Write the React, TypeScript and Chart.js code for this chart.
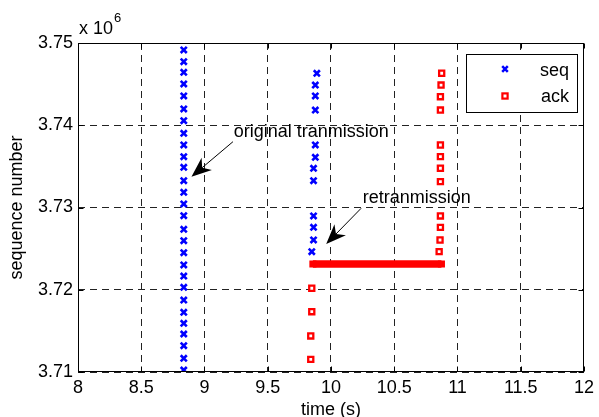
import React, { useEffect, useRef } from "react";
import { Chart, registerables } from "chart.js";

Chart.register(...registerables);

const FONT = '"Liberation Sans", Arial, Helvetica, sans-serif';
const FS = 18;

// ---- data (sequence numbers in bytes, axis shows x 10^6) ----
const origTime = 8.836;
const origSeq = [
  3749150, 3747730, 3746440, 3745020, 3743560, 3741980, 3740550, 3739020,
  3737600, 3736180, 3734890, 3733260, 3731850, 3730430, 3729000, 3727350,
  3725960, 3724500, 3723010, 3721670, 3720300, 3718750, 3717260, 3715920,
  3714620, 3713200, 3711670, 3710240,
];
const retxTimes = [9.888, 9.876, 9.876, 9.876, 9.876, 9.876, 9.862, 9.862, 9.862, 9.862, 9.862, 9.848];
const retxSeq = [3746320, 3744890, 3743560, 3741850, 3737600, 3736100, 3734770, 3733260, 3728970, 3727590, 3726050, 3724630];
const earlyAckTimes = [9.848, 9.848, 9.84, 9.84];
const earlyAckSeq = [3720180, 3717330, 3714380, 3711540];
const dupAckTimes = [9.857, 10.873];
const dupAckSeq = [3723130, 3723130];
const lateAckTimes = [10.875, 10.87, 10.865, 10.865, 10.865, 10.865, 10.865, 10.865, 10.865, 10.865, 10.862, 10.855];
const lateAckSeq = [3746320, 3744890, 3743470, 3741850, 3737600, 3736180, 3734770, 3733140, 3728970, 3727590, 3726050, 3724630];

const xTicks = [8, 8.5, 9, 9.5, 10, 10.5, 11, 11.5, 12];
const yTicks = [3710000, 3720000, 3730000, 3740000, 3750000];
const seriesLabels = ["seq", "ack"];

// annotations
const annoTexts = ["original tranmission", "retranmission"];
const annoTextX = [9.231, 10.251];
const annoTextY = [3739220, 3731150];
const annoFromX = [9.225, 10.238];
const annoFromY = [3738000, 3729900];
const annoToX = [8.897, 9.962];
const annoToY = [3733740, 3725560];

const BLUE = "#0000ff";
const RED = "#ff0000";

function drawCross(ctx: CanvasRenderingContext2D, x: number, y: number, r: number) {
  ctx.save();
  ctx.strokeStyle = BLUE;
  ctx.lineWidth = 2.5;
  ctx.beginPath();
  ctx.moveTo(x - r, y - r);
  ctx.lineTo(x + r, y + r);
  ctx.moveTo(x + r, y - r);
  ctx.lineTo(x - r, y + r);
  ctx.stroke();
  ctx.restore();
}

function drawSquare(ctx: CanvasRenderingContext2D, x: number, y: number, s: number) {
  ctx.save();
  ctx.fillStyle = "#fff";
  ctx.strokeStyle = RED;
  ctx.lineWidth = 2.2;
  ctx.fillRect(x - s, y - s, 2 * s, 2 * s);
  ctx.strokeRect(x - s, y - s, 2 * s, 2 * s);
  ctx.restore();
}

function drawArrow(ctx: CanvasRenderingContext2D, x1: number, y1: number, x2: number, y2: number) {
  const ang = Math.atan2(y2 - y1, x2 - x1);
  const L = 20;
  const W = 8;
  const ux = Math.cos(ang), uy = Math.sin(ang);
  const px = -uy, py = ux;
  const bx = x2 - ux * L, by = y2 - uy * L;
  const nx = x2 - ux * L * 0.7, ny = y2 - uy * L * 0.7;
  ctx.save();
  ctx.strokeStyle = "#000";
  ctx.lineWidth = 1;
  ctx.beginPath();
  ctx.moveTo(x1, y1);
  ctx.lineTo(nx, ny);
  ctx.stroke();
  ctx.fillStyle = "#000";
  ctx.beginPath();
  ctx.moveTo(x2, y2);
  ctx.lineTo(bx + px * W, by + py * W);
  ctx.lineTo(nx, ny);
  ctx.lineTo(bx - px * W, by - py * W);
  ctx.closePath();
  ctx.fill();
  ctx.restore();
}

const overlayPlugin = {
  id: "overlay",
  afterDraw(chart: any) {
    const { ctx, chartArea: a, scales } = chart;
    const xs = scales.x;
    const ys = scales.y;
    ctx.save();
    ctx.setLineDash([]);
    ctx.strokeStyle = "#000";
    ctx.lineWidth = 1;
    const L = Math.round(a.left) + 0.5;
    const R = Math.round(a.right) - 0.5;
    const T = Math.round(a.top) + 0.5;
    const B = Math.round(a.bottom) - 0.5;
    ctx.strokeRect(L, T, R - L, B - T);
    ctx.beginPath();
    for (const v of xTicks) {
      const px = Math.round(xs.getPixelForValue(v)) + 0.5;
      ctx.moveTo(px, B);
      ctx.lineTo(px, B - 5);
      ctx.moveTo(px, T);
      ctx.lineTo(px, T + 5);
    }
    for (const v of yTicks) {
      const py = Math.round(ys.getPixelForValue(v)) + 0.5;
      ctx.moveTo(L, py);
      ctx.lineTo(L + 5, py);
      ctx.moveTo(R, py);
      ctx.lineTo(R - 5, py);
    }
    ctx.stroke();

    ctx.fillStyle = "#000";
    ctx.font = `${FS}px ${FONT}`;
    ctx.textAlign = "left";
    ctx.textBaseline = "middle";
    ctx.fillText("x 10", 79, 29);
    const w = ctx.measureText("x 10").width;
    ctx.font = `13px ${FONT}`;
    ctx.fillText("6", 79 + w + 1, 18);

    ctx.font = `${FS}px ${FONT}`;
    ctx.textAlign = "center";
    ctx.fillText("time (s)", (a.left + a.right) / 2, 410);
    ctx.save();
    ctx.translate(17, (a.top + a.bottom) / 2);
    ctx.rotate(-Math.PI / 2);
    ctx.fillText("sequence number", 0, 0);
    ctx.restore();

    for (let i = 0; i < annoTexts.length; i++) {
      ctx.font = `${FS}px ${FONT}`;
      ctx.textAlign = "left";
      ctx.textBaseline = "middle";
      ctx.fillStyle = "#000";
      ctx.fillText(annoTexts[i], xs.getPixelForValue(annoTextX[i]), ys.getPixelForValue(annoTextY[i]));
      drawArrow(
        ctx,
        xs.getPixelForValue(annoFromX[i]),
        ys.getPixelForValue(annoFromY[i]),
        xs.getPixelForValue(annoToX[i]),
        ys.getPixelForValue(annoToY[i])
      );
    }

    const lx = 466.5, ly = 54.5, lw = 111, lh = 58;
    ctx.fillStyle = "#fff";
    ctx.fillRect(lx, ly, lw, lh);
    ctx.strokeStyle = "#000";
    ctx.lineWidth = 1;
    ctx.strokeRect(lx, ly, lw, lh);
    drawCross(ctx, 505, 69, 2.8);
    drawSquare(ctx, 505, 96, 2.6);
    ctx.fillStyle = "#000";
    ctx.font = `${FS}px ${FONT}`;
    ctx.textAlign = "right";
    ctx.textBaseline = "middle";
    ctx.fillText(seriesLabels[0], 569, 71);
    ctx.fillText(seriesLabels[1], 569, 97);
    ctx.restore();
  },
};

export default function App() {
  const ref = useRef<HTMLCanvasElement>(null);
  useEffect(() => {
    if (!ref.current) return;
    const seqPoint = {
      pointStyle: "crossRot",
      pointRadius: 4.3,
      pointBorderWidth: 2.6,
      borderColor: BLUE,
      backgroundColor: BLUE,
      showLine: false,
    };
    const ackPoint = {
      pointStyle: "rect",
      pointRadius: 3.6,
      pointBorderWidth: 2.3,
      borderColor: RED,
      backgroundColor: "#ffffff",
      showLine: false,
    };
    const chart = new Chart(ref.current, {
      type: "scatter",
      data: {
        datasets: [
          {
            label: seriesLabels[0],
            data: origSeq.map((s) => ({ x: origTime, y: s })),
            ...seqPoint,
          } as any,
          {
            label: seriesLabels[0],
            data: retxSeq.map((s, i) => ({ x: retxTimes[i], y: s })),
            ...seqPoint,
          } as any,
          {
            label: seriesLabels[1],
            data: earlyAckSeq.map((s, i) => ({ x: earlyAckTimes[i], y: s })),
            ...ackPoint,
          } as any,
          {
            label: seriesLabels[1],
            data: dupAckSeq.map((s, i) => ({ x: dupAckTimes[i], y: s })),
            showLine: true,
            borderColor: RED,
            borderWidth: 7.5,
            borderCapStyle: "butt",
            pointStyle: "rect",
            pointRadius: 3.6,
            pointBorderWidth: 2,
            pointBackgroundColor: RED,
            pointBorderColor: RED,
          } as any,
          {
            label: seriesLabels[1],
            data: lateAckSeq.map((s, i) => ({ x: lateAckTimes[i], y: s })),
            ...ackPoint,
          } as any,
        ],
      },
      options: {
        responsive: false,
        animation: false,
        layout: { padding: { left: 0, top: 43, right: 14, bottom: 0 } },
        plugins: { legend: { display: false }, tooltip: { enabled: false } },
        scales: {
          x: {
            type: "linear",
            min: 8,
            max: 12,
            afterBuildTicks: (s: any) => {
              s.ticks = xTicks.map((v) => ({ value: v }));
            },
            afterFit: (s: any) => {
              s.height = 45;
            },
            ticks: {
              color: "#000",
              font: { size: FS, family: FONT },
              padding: 5,
              maxRotation: 0,
              autoSkip: false,
              callback: (v: any) => String(v),
            },
            grid: { color: "#222", lineWidth: 1, drawTicks: false },
            border: { display: false, dash: [7, 5] },
          },
          y: {
            type: "linear",
            min: 3710000,
            max: 3750000,
            afterBuildTicks: (s: any) => {
              s.ticks = yTicks.map((v) => ({ value: v }));
            },
            afterFit: (s: any) => {
              s.width = 78;
            },
            ticks: {
              color: "#000",
              font: { size: FS, family: FONT },
              padding: 5,
              autoSkip: false,
              callback: (v: any) => (Number(v) / 1e6).toFixed(2),
            },
            grid: { color: "#222", lineWidth: 1, drawTicks: false },
            border: { display: false, dash: [7, 5] },
          },
        },
      },
      plugins: [overlayPlugin],
    });
    return () => chart.destroy();
  }, []);
  return (
    <div style={{ position: "fixed", left: 0, top: 0, width: 599, height: 417, background: "#fff" }}>
      <canvas ref={ref} width={599} height={417} style={{ display: "block" }} />
    </div>
  );
}
